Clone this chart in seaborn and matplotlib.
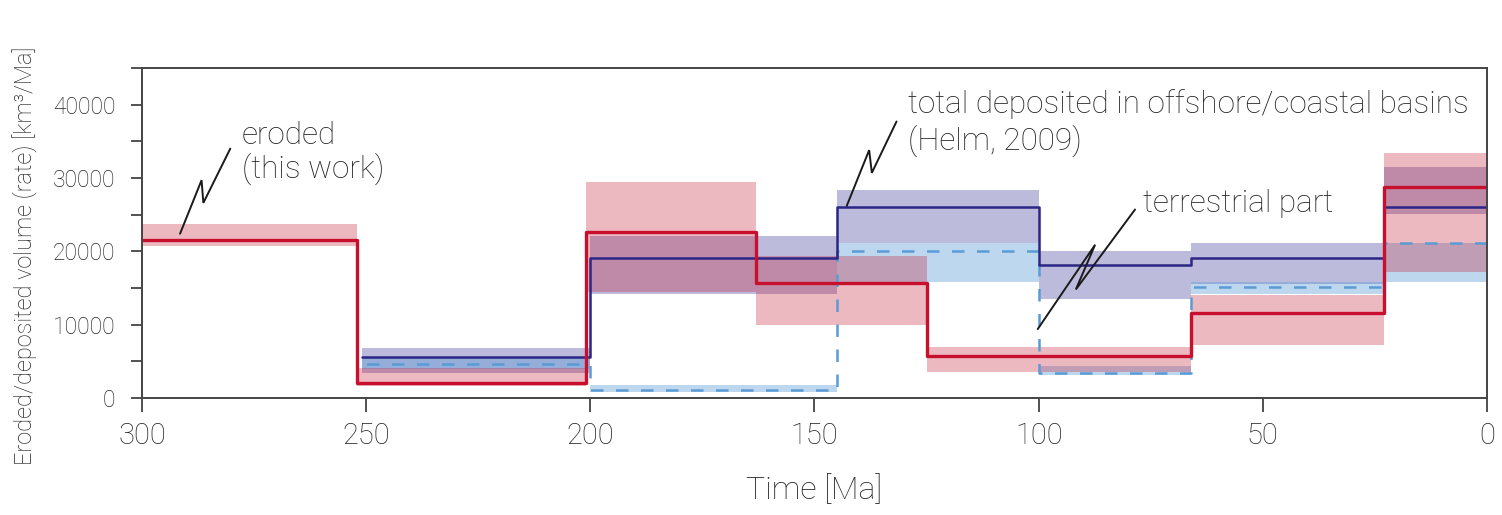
import numpy as np
import pandas as pd
import matplotlib
matplotlib.use("Agg")
import matplotlib.pyplot as plt
import matplotlib.ticker as mticker
import seaborn as sns

# eroded volume rate (this work), intervals from young to old [Ma]
ero_edges = [0, 23, 66, 125, 163, 201, 252, 300]
ero_mid = [28800, 11600, 5700, 15700, 22700, 2000, 21500]
ero_lo = [17200, 7200, 3600, 10000, 14500, 1700, 20700]
ero_hi = [33400, 14000, 7000, 19400, 29500, 4100, 23700]

# deposited (Helm, 2009): total and terrestrial part
dep_edges = [0, 23, 66, 100, 145, 200, 251]
tot_mid = [26100, 19100, 18100, 26100, 19100, 5600]
tot_lo = [25100, 15600, 13500, 21100, 14200, 3400]
tot_hi = [31500, 21100, 20000, 28400, 22100, 6800]
ter_mid = [21100, 15100, 3400, 20100, 1100, 4600]
ter_lo = [15800, 14200, 3200, 15800, 800, 4000]
ter_hi = [21100, 15800, 4300, 21100, 1800, 5500]

RED = "#c8102e"
NAVY = "#2b2585"
PURPLE_BAND = "#4a44a0"
LBLUE = "#5b9bd5"

sns.set_theme(style="ticks")
plt.rcParams["font.family"] = ["Roboto", "DejaVu Sans"]
plt.rcParams["font.weight"] = "light"
plt.rcParams["axes.labelweight"] = "light"
TXT = "#222222"


def steps(edges, vals):
    return pd.DataFrame({"t": edges, "v": list(vals) + [vals[-1]]})


fig = plt.figure(figsize=(15.02, 5.15), dpi=100)
ax = fig.add_axes([0.0945, 0.2272, 0.8955, 0.6408])

# uncertainty bands
d = steps(dep_edges, tot_lo); d["hi"] = steps(dep_edges, tot_hi)["v"]
ax.fill_between(d["t"], d["v"], d["hi"], step="post", color=PURPLE_BAND,
                alpha=0.36, lw=0)
d = steps(dep_edges, ter_lo); d["hi"] = steps(dep_edges, ter_hi)["v"]
ax.fill_between(d["t"], d["v"], d["hi"], step="post", color=LBLUE,
                alpha=0.4, lw=0)
d = steps(ero_edges, ero_lo); d["hi"] = steps(ero_edges, ero_hi)["v"]
ax.fill_between(d["t"], d["v"], d["hi"], step="post", color="#c41a30",
                alpha=0.3, lw=0)

# step lines
sns.lineplot(data=steps(dep_edges, ter_mid), x="t", y="v", ax=ax,
             color=LBLUE, lw=1.8, linestyle=(0, (5, 5)),
             drawstyle="steps-post")
sns.lineplot(data=steps(dep_edges, tot_mid), x="t", y="v", ax=ax,
             color=NAVY, lw=1.8, drawstyle="steps-post")
sns.lineplot(data=steps(ero_edges, ero_mid), x="t", y="v", ax=ax,
             color=RED, lw=2.4, drawstyle="steps-post")

# zig-zag leaders
ax.plot([291.5, 286.7, 286.3, 280.3], [22400, 29700, 26600, 34000],
        color="k", lw=1.4, solid_joinstyle="miter")
ax.plot([142.8, 137.8, 137.2, 131.7], [26200, 33800, 30700, 37700],
        color="k", lw=1.4, solid_joinstyle="miter")
ax.plot([100.2, 87.4, 91.7, 78.5], [9400, 20900, 14800, 25700],
        color="k", lw=1.4, solid_joinstyle="miter")

kw = dict(fontsize=22.7, color=TXT, va="baseline", ha="left")
ax.text(277.7, 34600, "eroded", **kw)
ax.text(277.7, 30000, "(this work)", **kw)
ax.text(129.1, 38900, "total deposited in offshore/coastal basins", **kw)
ax.text(129.1, 33900, "(Helm, 2009)", **kw)
ax.text(76.7, 25400, "terrestrial part", **kw)

ax.set_xlim(300, 0)
ax.set_ylim(0, 45000)
ax.set_xticks(np.arange(0, 301, 50))
ax.set_yticks(np.arange(0, 40001, 10000))
ax.yaxis.set_minor_locator(mticker.MultipleLocator(5000))
ax.tick_params(axis="x", labelsize=21, length=10, width=1.2,
               colors="#333333", labelcolor=TXT, pad=7)
ax.tick_params(axis="y", which="both", labelsize=16.5, length=8, width=1.2,
               colors="#333333", labelcolor=TXT, pad=11)
for s in ax.spines.values():
    s.set_visible(True)
    s.set_color("#444444")
    s.set_linewidth(1.4)

ax.set_xlabel("Time [Ma]", fontsize=23, color=TXT, labelpad=18)
ax.set_ylabel("Eroded/deposited volume (rate) [km³/Ma]", fontsize=17,
              color=TXT)
ax.yaxis.set_label_coords(-0.077, 0.43)

fig.savefig("out.png", dpi=100)
